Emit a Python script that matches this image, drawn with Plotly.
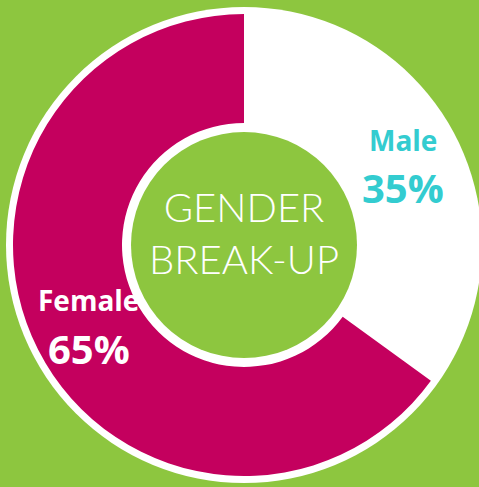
import math
import plotly.graph_objects as go

# Data
labels = ["Male", "Female"]
values = [35, 65]
slice_colors = ["#FFFFFF", "#C4005E"]
label_colors = ["#33CCD0", "#FFFFFF"]
center_title = "GENDER<br>BREAK-UP"

W, H = 479, 487
BG = "#8DC63F"
cx, cy = 244, 245          # px, from top-left
r_outer_white = 238
r_ring_outer = 231
r_ring_inner = 122
r_hole_green = 113

def px_x(x):
    return x / W

def px_y(y):
    return (H - y) / H

fig = go.Figure()

fig.add_trace(go.Pie(
    labels=labels,
    values=values,
    sort=False,
    direction="clockwise",
    rotation=0,
    hole=r_ring_inner / r_ring_outer,
    marker=dict(colors=slice_colors, line=dict(width=0)),
    textinfo="none",
    hoverinfo="none",
    showlegend=False,
    domain=dict(
        x=[px_x(cx - r_ring_outer), px_x(cx + r_ring_outer)],
        y=[px_y(cy + r_ring_outer), px_y(cy - r_ring_outer)],
    ),
))

shapes = [
    dict(type="circle", xref="paper", yref="paper", layer="below",
         x0=px_x(cx - r_outer_white), x1=px_x(cx + r_outer_white),
         y0=px_y(cy + r_outer_white), y1=px_y(cy - r_outer_white),
         fillcolor="#FFFFFF", line=dict(width=0)),
    dict(type="circle", xref="paper", yref="paper", layer="below",
         x0=px_x(cx - r_hole_green), x1=px_x(cx + r_hole_green),
         y0=px_y(cy + r_hole_green), y1=px_y(cy - r_hole_green),
         fillcolor=BG, line=dict(width=0)),
]

annotations = [dict(
    text=center_title, x=px_x(cx), y=px_y(233), xref="paper", yref="paper",
    xanchor="center", yanchor="middle", showarrow=False,
    font=dict(family="Lato", size=40, color="#FFFFFF", weight=300),
)]

# slice labels placed at each slice's mid-angle, mid-radius
total = sum(values)
r_mid = (r_ring_outer + r_ring_inner) / 2
cum = 0
for lab, val, col in zip(labels, values, label_colors):
    mid = (cum + val / 2) / total * 2 * math.pi
    cum += val
    lx = cx + r_mid * math.sin(mid)
    ly = cy - r_mid * math.cos(mid)
    annotations.append(dict(
        text=lab, x=px_x(lx + 2), y=px_y(ly - 25), xref="paper", yref="paper",
        xanchor="center", yanchor="middle", showarrow=False,
        font=dict(family="Open Sans", size=28, color=col, weight="bold"),
    ))
    annotations.append(dict(
        text=f"{round(val / total * 100)}%", x=px_x(lx + 2), y=px_y(ly + 23),
        xref="paper", yref="paper",
        xanchor="center", yanchor="middle", showarrow=False,
        font=dict(family="Open Sans", size=40, color=col, weight="bold"),
    ))

fig.update_layout(
    width=W, height=H,
    margin=dict(l=0, r=0, t=0, b=0),
    paper_bgcolor=BG,
    plot_bgcolor=BG,
    shapes=shapes,
    annotations=annotations,
)

fig.write_html(
    "out.html",
    config={"displayModeBar": False},
    post_script="document.body.style.margin='0';document.body.style.background='" + BG + "';",
)
